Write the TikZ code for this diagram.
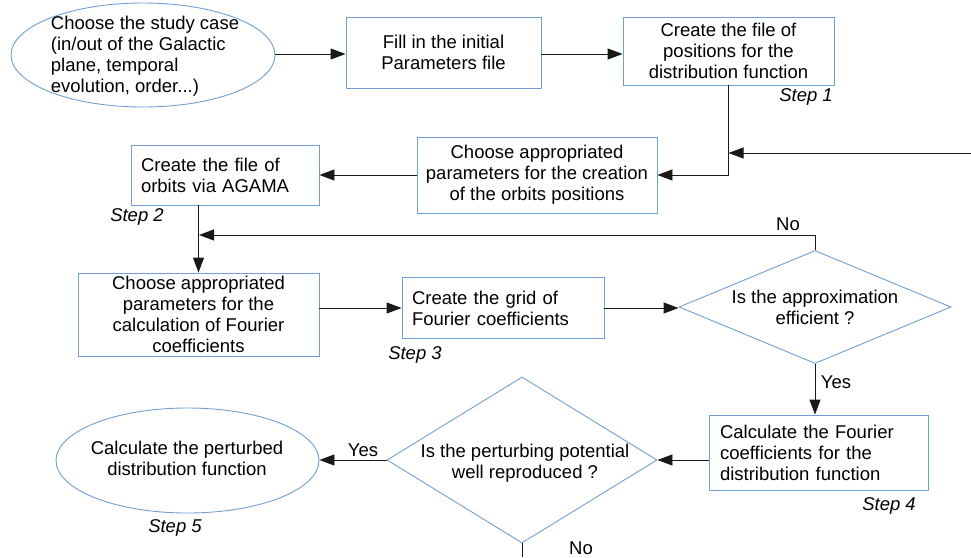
\documentclass[tikz,border=0pt]{standalone}
\usepackage{fontspec}
\setmainfont{Liberation Sans}
\usetikzlibrary{shapes.geometric,arrows.meta,calc}
\definecolor{boxblue}{RGB}{114,159,207}
\definecolor{linecol}{RGB}{25,25,25}
\begin{document}
\begin{tikzpicture}[x=1pt,y=-1pt, font=\fontsize{18.5}{21}\selectfont,
  box/.style={draw=boxblue, line width=0.9pt, inner sep=0pt, align=center},
  lbox/.style={draw=boxblue, line width=0.9pt, inner ysep=0pt, align=left},
  ell/.style={draw=boxblue, ellipse, line width=0.9pt, inner sep=0pt},
  dia/.style={draw=boxblue, diamond, line width=0.9pt, inner sep=0pt},
  arr/.style={draw=linecol, line width=0.9pt, -{Triangle[length=15pt,width=11pt]}},
  conn/.style={draw=linecol, line width=0.9pt},
  steplabel/.style={font=\fontsize{18.5}{21}\selectfont\itshape, inner sep=0pt},
  lab/.style={inner sep=0pt}]
\useasboundingbox (0,0) rectangle (971,557);

% shapes
\node[ell, minimum width=264pt, minimum height=104pt] (e1) at (143,55) {};
\node[lab, align=left] (e1t) at (145,56) {Choose the study case\\(in/out of the Galactic\\plane, temporal\\evolution, order...)};

\node[box, minimum width=195pt, minimum height=71pt] (b1) at (443.5,52.5) {Fill in the initial\\Parameters file};
\node[box, minimum width=211pt, minimum height=68pt] (b2) at (728.5,51) {Create the file of\\positions for the\\distribution function};
\node[steplabel] (s1) at (806,97) {Step 1};

\node[box, minimum width=240pt, minimum height=76pt] (b3) at (537,175) {Choose appropriated\\parameters for the creation\\of the orbits positions};
\node[lbox, text width=168pt, inner xsep=10pt, minimum height=60pt] (b4) at (225,175) {Create the file of\\orbits via AGAMA};
\node[steplabel] (s2) at (137,217) {Step 2};

\node[box, minimum width=241pt, minimum height=83pt] (b5) at (198.5,314.5) {Choose appropriated\\parameters for the\\calculation of Fourier\\coefficients};
\node[lbox, text width=182pt, inner xsep=10pt, minimum height=61pt] (b6) at (503,308) {Create the grid of\\Fourier coefficients};
\node[steplabel] (s3) at (415,355) {Step 3};

\node[dia, minimum width=272pt, minimum height=113pt] (d1) at (815,307) {};
\node[lab, align=center] (d1t) at (815,307) {Is the approximation\\efficient ?};

\node[lbox, text width=197pt, inner xsep=11pt, minimum height=75pt] (b7) at (818.5,452.5) {Calculate the Fourier\\coefficients for the\\distribution function};
\node[steplabel] (s4) at (889,506) {Step 4};

\node[dia, minimum width=270pt, minimum height=166pt] (d2) at (522,460) {};
\node[lab, align=center] (d2t) at (525,463) {Is the perturbing potential\\well reproduced ?};

\node[ell, minimum width=263pt, minimum height=105pt] (e2) at (187.5,460.5) {};
\node[lab, align=center] (e2t) at (187,458) {Calculate the perturbed\\distribution function};
\node[steplabel] (s5) at (175,528) {Step 5};

% connectors
\draw[arr] (e1.east |- 0,54) -- (b1.west |- 0,54);
\draw[arr] (b1.east |- 0,54) -- (b2.west |- 0,54);
\draw[arr] (b2.south) |- (b3.east);
\coordinate (rin) at (971,153);
\draw[arr] (rin) -- (rin -| b2.south);
\draw[arr] (b3.west) -- (b4.east);
\coordinate (j0) at (b4.south -| b5.north);
\draw[arr] (j0) -- (b5.north);
\coordinate (j1) at (199,235);
\draw[arr] (d1.north) |- (j1);
\node[lab] (no1) at (788,224) {No};
\draw[arr] (b5.east |- b6.west) -- (b6.west);
\draw[arr] (b6.east) -- (b6.east -| d1.west);
\draw[arr] (d1.south) -- (d1.south |- b7.north);
\node[lab] (yes1) at (836,382) {Yes};
\draw[arr] (b7.west |- d2.east) -- (d2.east);
\draw[arr] (d2.west) -- (e2.east |- d2.west);
\node[lab] (yes2) at (363,450) {Yes};
\coordinate (bot) at (522,557);
\draw[conn] (d2.south) -- (bot);
\node[lab] (no2) at (581,548) {No};
\end{tikzpicture}
\end{document}
